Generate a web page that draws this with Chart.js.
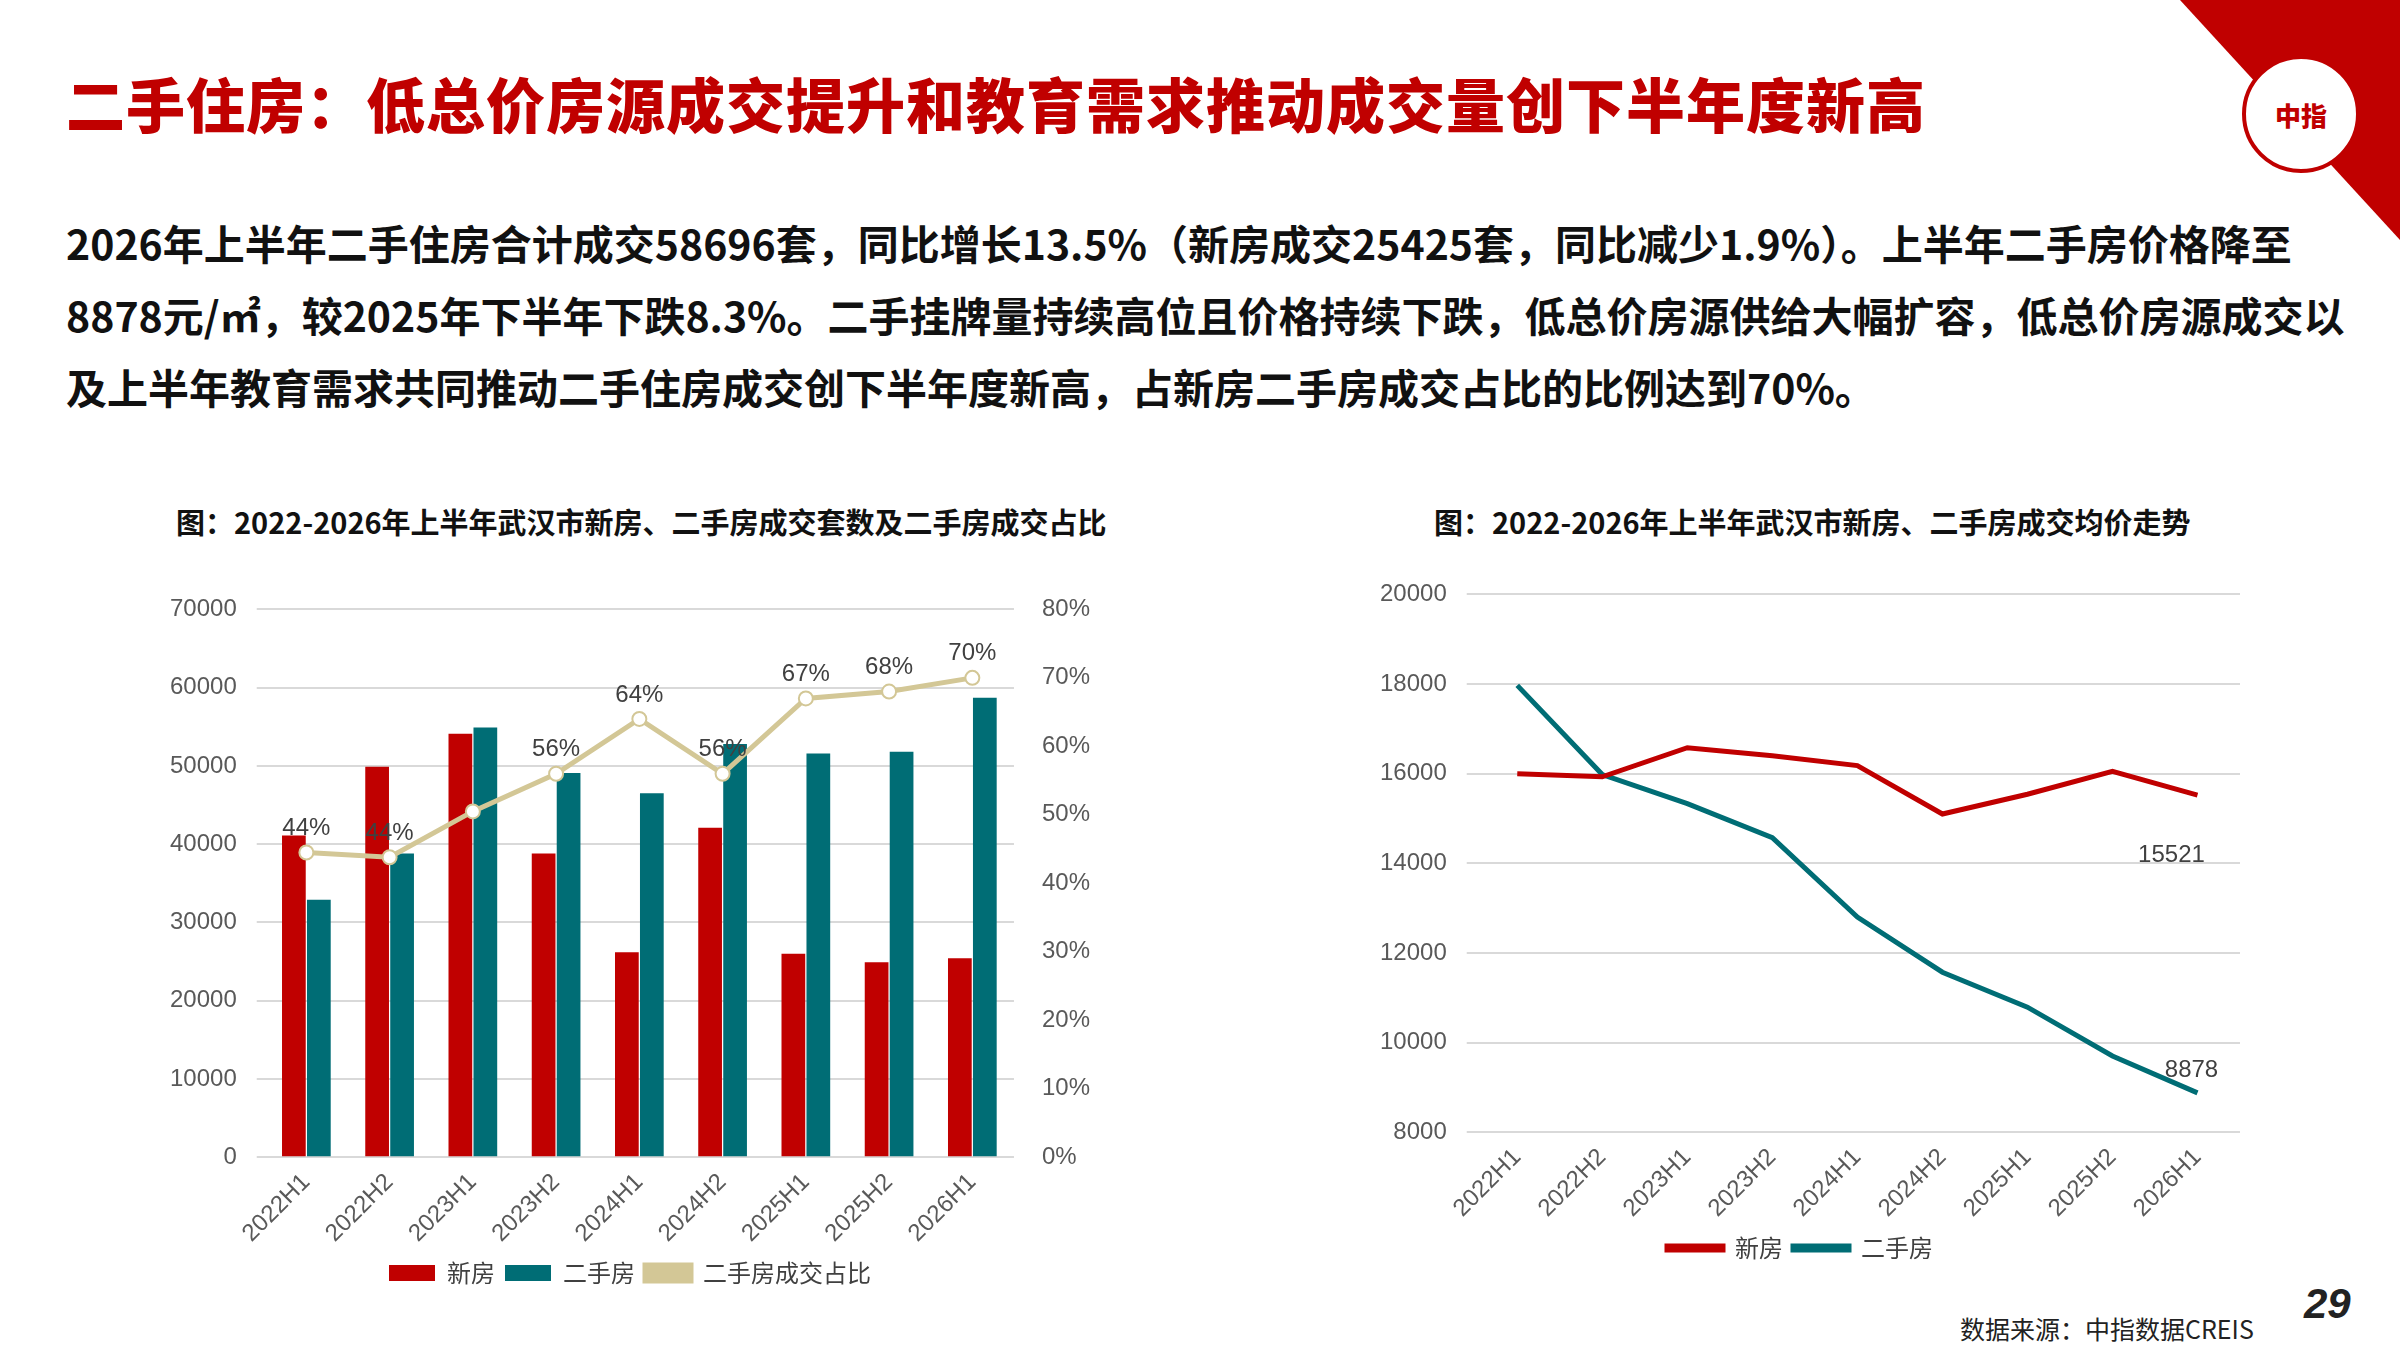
<!DOCTYPE html>
<html><head><meta charset="utf-8">
<script src="https://cdn.jsdelivr.net/npm/chart.js@4"></script>
<style>
body{margin:0;width:2400px;height:1350px;background:#fff;position:relative;overflow:hidden;font-family:"Noto Sans CJK SC","Noto Sans",sans-serif}
#title{position:absolute;left:66px;top:60px;font-size:59px;font-weight:900;color:#c00000;letter-spacing:1px}
#body{position:absolute;left:66px;top:206px;width:2340px;font-size:41px;font-weight:700;line-height:72px;color:#111;letter-spacing:0px;white-space:nowrap}
.ct{position:absolute;font-size:29px;font-weight:700;color:#111}
.box{position:absolute}
#corner{position:absolute;right:0;top:0;width:0;height:0;border-top:240px solid #c00000;border-left:220px solid transparent}
#logo{position:absolute;right:40px;top:55px;width:110px;height:110px;border-radius:50%;background:#fff;border:4px solid #c00000;color:#c00000;font-weight:900;font-size:26px;display:flex;align-items:center;justify-content:center}
#src{position:absolute;left:1960px;top:1310px;font-size:25px;color:#222}
#pg{position:absolute;left:2304px;top:1280px;font-size:42px;font-weight:700;font-style:italic;color:#222;font-family:"Liberation Sans",sans-serif}
</style></head><body>
<div id="corner"></div><div id="logo">中指</div>
<div id="title">二手住房：低总价房源成交提升和教育需求推动成交量创下半年度新高</div>
<div id="body">2026年上半年二手住房合计成交58696套，同比增长13.5%（新房成交25425套，同比减少1.9%）。上半年二手房价格降至<br>8878元/㎡，较2025年下半年下跌8.3%。二手挂牌量持续高位且价格持续下跌，低总价房源供给大幅扩容，低总价房源成交以<br>及上半年教育需求共同推动二手住房成交创下半年度新高，占新房二手房成交占比的比例达到70%。</div>
<div class="ct" style="left:176px;top:500px">图：2022-2026年上半年武汉市新房、二手房成交套数及二手房成交占比</div>
<div class="ct" style="left:1434px;top:500px">图：2022-2026年上半年武汉市新房、二手房成交均价走势</div>
<div class="box" style="left:150px;top:575px;width:960px;height:720px"><canvas id="c1"></canvas></div>
<div class="box" style="left:1360px;top:560px;width:900px;height:710px"><canvas id="c2"></canvas></div>
<div id="src">数据来源：中指数据CREIS</div>
<div id="pg">29</div>
<script>
const periods = ["2022H1","2022H2","2023H1","2023H2","2024H1","2024H2","2025H1","2025H2","2026H1"];
const newCount = [41100, 49900, 54100, 38800, 26200, 42100, 26000, 24900, 25425];
const usedCount = [32900, 38800, 54900, 49100, 46500, 52800, 51600, 51800, 58696];
const usedShare = [44.5, 43.8, 50.5, 56, 64, 56, 67, 68, 70];
const shareLabels = ["44%","44%","","56%","64%","56%","67%","68%","70%"];
const newPrice = [16000, 15930, 16580, 16400, 16180, 15100, 15540, 16050, 15521];
const usedPrice = [17970, 15980, 15330, 14570, 12800, 11570, 10790, 9700, 8878];

const RED = "#c00000", TEAL = "#006d75", TAN = "#d3c796", GREY = "#595959";
const tickFont = {family: "Liberation Sans, Arial, sans-serif", size: 24};
Chart.defaults.color = GREY;

// draws text labels on chosen points of a dataset
const pointLabels = {
  id: "pointLabels",
  afterDatasetsDraw(chart) {
    const ctx = chart.ctx;
    chart.data.datasets.forEach((ds, i) => {
      if (!ds.labels) return;
      chart.getDatasetMeta(i).data.forEach((pt, j) => {
        const t = ds.labels[j];
        if (!t) return;
        ctx.save();
        ctx.font = "24px Liberation Sans, Arial, sans-serif";
        ctx.fillStyle = "#404040";
        ctx.textAlign = "center";
        ctx.fillText(t, pt.x + (ds.labelDx || 0), pt.y + (ds.labelDy || -22));
        ctx.restore();
      });
    });
  }
};

new Chart(document.getElementById("c1"), {
  type: "bar",
  data: {
    labels: periods,
    datasets: [
      {label: "新房", data: newCount, backgroundColor: RED, order: 1},
      {label: "二手房", data: usedCount, backgroundColor: TEAL, order: 1},
      {label: "二手房成交占比", type: "line", data: usedShare, yAxisID: "y1", order: 0,
       borderColor: TAN, backgroundColor: TAN, borderWidth: 5, pointRadius: 7,
       pointBackgroundColor: "#fff", pointBorderColor: TAN, pointBorderWidth: 2,
       labels: shareLabels, labelDy: -24}
    ]
  },
  options: {
    responsive: true, maintainAspectRatio: false, animation: false,
    layout: {padding: {top: 10}},
    datasets: {bar: {categoryPercentage: 0.6, barPercentage: 0.95}},
    plugins: {
      legend: {position: "bottom",
        labels: {boxWidth: 46, boxHeight: 16, font: {family: "Noto Sans CJK SC", size: 24}, color: "#404040",
                 sort: (a, b) => a.datasetIndex - b.datasetIndex}},
      tooltip: {enabled: false}
    },
    scales: {
      x: {grid: {display: false}, border: {display: false},
          ticks: {font: tickFont, maxRotation: 45, minRotation: 45}},
      y: {min: 0, max: 70000, ticks: {stepSize: 10000, font: tickFont, padding: 20, callback: v => String(v)},
          grid: {color: "#d9d9d9", lineWidth: 2}, border: {display: false}},
      y1: {position: "right", min: 0, max: 80, ticks: {stepSize: 10, font: tickFont, padding: 20, callback: v => v + "%"},
          grid: {display: false}, border: {display: false}}
    }
  },
  plugins: [pointLabels]
});

new Chart(document.getElementById("c2"), {
  type: "line",
  data: {
    labels: periods,
    datasets: [
      {label: "新房", data: newPrice, borderColor: RED, backgroundColor: RED, borderWidth: 5, pointRadius: 0,
       labels: ["","","","","","","","","15521"], labelDx: -26, labelDy: 60},
      {label: "二手房", data: usedPrice, borderColor: TEAL, backgroundColor: TEAL, borderWidth: 5, pointRadius: 0,
       labels: ["","","","","","","","","8878"], labelDx: -6, labelDy: -22}
    ]
  },
  options: {
    responsive: true, maintainAspectRatio: false, animation: false,
    layout: {padding: {right: 20}},
    plugins: {
      legend: {position: "bottom",
        labels: {boxWidth: 56, boxHeight: 4, font: {family: "Noto Sans CJK SC", size: 24}, color: "#404040"}},
      tooltip: {enabled: false}
    },
    scales: {
      x: {grid: {display: false}, border: {display: false}, offset: true,
          ticks: {font: tickFont, maxRotation: 45, minRotation: 45}},
      y: {min: 8000, max: 20000, ticks: {stepSize: 2000, font: tickFont, padding: 20, callback: v => String(v)},
          grid: {color: "#d9d9d9", lineWidth: 2}, border: {display: false}},
    }
  },
  plugins: [pointLabels]
});
</script>
</body></html>
